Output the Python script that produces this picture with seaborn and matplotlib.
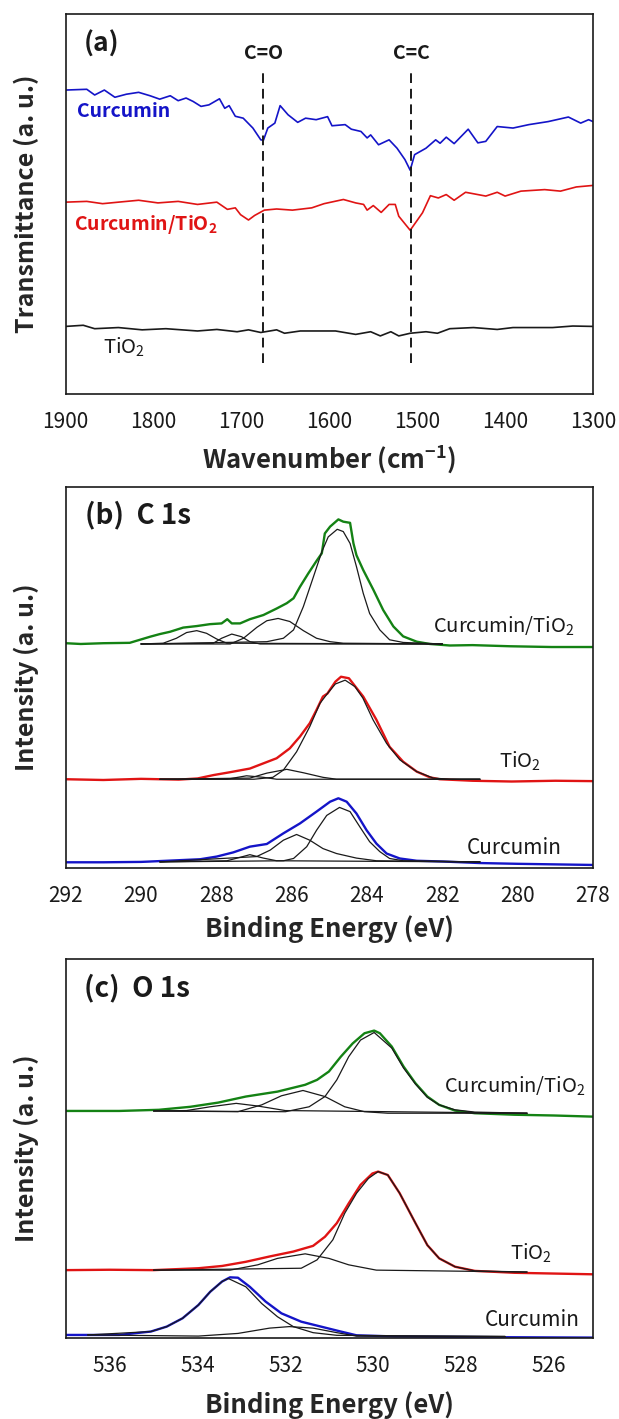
import matplotlib
matplotlib.use('Agg')
import matplotlib.pyplot as plt
import seaborn as sns
import pandas as pd
import numpy as np

sns.set_style('white')
plt.rcParams['font.family'] = ['Noto Sans CJK KR', 'DejaVu Sans']
plt.rcParams['mathtext.default'] = 'regular'

# ---------------- (a) FT-IR ----------------
ir_cur_x = [1900, 1876, 1867, 1856, 1844, 1831, 1817, 1804, 1793, 1781, 1772, 1763, 1755, 1746, 1737, 1725,
            1719, 1714, 1707, 1698, 1687, 1678, 1675, 1670, 1662, 1656, 1647, 1636, 1627, 1615, 1602, 1597,
            1582, 1575, 1564, 1557, 1553, 1544, 1532, 1523, 1514, 1508, 1503, 1490, 1479, 1474, 1467, 1458,
            1442, 1431, 1422, 1409, 1391, 1373, 1351, 1328, 1314, 1305, 1300]
ir_cur_y = [80.0, 80.2, 78.7, 80.0, 78.1, 78.9, 79.4, 78.5, 77.6, 78.5, 77.2, 77.9, 77.0, 75.7, 76.1, 77.7,
            75.2, 75.9, 73.1, 72.6, 70.0, 66.9, 66.8, 70.0, 71.3, 75.9, 73.5, 71.5, 72.6, 72.2, 73.0, 70.6,
            70.9, 69.7, 69.1, 67.4, 68.2, 65.6, 66.9, 64.7, 61.7, 58.9, 63.0, 64.7, 66.9, 66.0, 67.6, 65.9,
            69.7, 66.1, 66.5, 70.4, 70.0, 70.9, 71.7, 72.9, 71.3, 72.2, 71.7]

ir_comp_x = [1900, 1876, 1858, 1840, 1817, 1795, 1772, 1750, 1728, 1716, 1707, 1701, 1692, 1685, 1674,
             1660, 1642, 1620, 1606, 1584, 1570, 1561, 1557, 1550, 1541, 1532, 1525, 1521, 1508, 1494,
             1485, 1476, 1467, 1458, 1445, 1422, 1409, 1400, 1382, 1355, 1337, 1319, 1300]
ir_comp_y = [50.5, 50.7, 50.1, 50.5, 51.0, 50.3, 50.7, 49.9, 50.5, 48.6, 49.0, 47.2, 45.8, 47.0, 48.4,
             48.7, 48.4, 49.0, 50.1, 51.2, 50.3, 49.9, 48.4, 49.6, 47.8, 49.9, 49.9, 46.8, 43.1, 47.7,
             52.2, 51.6, 52.5, 51.0, 53.1, 52.1, 53.1, 52.1, 53.4, 53.8, 53.4, 54.5, 54.9]

ir_tio_x = [1900, 1880, 1867, 1840, 1813, 1786, 1750, 1728, 1705, 1692, 1678, 1660, 1651, 1633, 1593,
            1570, 1553, 1542, 1530, 1521, 1508, 1490, 1477, 1463, 1436, 1409, 1391, 1346, 1323, 1300]
ir_tio_y = [17.8, 18.1, 17.2, 17.5, 16.9, 17.2, 16.6, 17.0, 16.4, 16.9, 16.2, 16.9, 16.0, 16.6, 16.6,
            15.7, 16.4, 15.3, 16.4, 15.3, 16.0, 16.4, 16.0, 17.2, 17.5, 17.0, 17.5, 17.5, 17.9, 17.8]

ir_marks = [1675, 1507]
ir_mark_labels = ['C=O', 'C=C']

# ---------------- (b) C 1s ----------------
c_ct_x = [292.0, 291.6, 291.0, 290.3, 289.76, 289.5, 289.23, 288.88, 288.52, 288.17, 287.86, 287.71, 287.59,
          287.37, 287.11, 286.75, 286.4, 286.13, 285.95, 285.78, 285.56, 285.34, 285.2, 285.12, 284.98,
          284.76, 284.63, 284.45, 284.36, 284.28, 284.1, 283.83, 283.57, 283.3, 283.04, 282.68, 282.33,
          281.8, 281.2, 280.2, 279.1, 278.0]
c_ct_y = [59.0, 58.8, 59.0, 59.1, 60.7, 61.4, 62.0, 63.1, 63.5, 64.0, 64.2, 65.3, 64.2,
          64.2, 65.3, 66.4, 68.1, 69.5, 70.8, 73.8, 77.3, 80.6, 82.6, 87.8, 89.6,
          91.5, 90.9, 90.6, 85.2, 82.1, 78.2, 73.0, 67.7, 63.4, 60.8, 59.4, 58.8,
          58.4, 58.5, 58.2, 58.0, 58.0]
c_ct_fits = [
    ([290.0, 286.66, 286.22, 285.95, 285.69, 285.42, 285.2, 285.03, 284.79, 284.63, 284.45, 284.28,
      284.1, 283.93, 283.66, 283.4, 283.04, 282.0],
     [58.8, 59.4, 60.3, 62.5, 68.6, 76.5, 83.0, 86.9, 88.9, 88.3, 85.2, 79.1,
      72.1, 66.8, 62.5, 59.9, 59.2, 58.8]),
    ([290.0, 287.63, 287.28, 286.92, 286.66, 286.36, 286.05, 285.69, 285.34, 284.98, 284.63, 282.0],
     [58.8, 58.8, 60.3, 63.2, 64.9, 65.5, 64.7, 62.3, 60.3, 59.4, 59.0, 58.8]),
    ([290.0, 288.08, 287.86, 287.59, 287.33, 287.11, 286.84, 282.0],
     [58.8, 59.0, 60.3, 61.4, 60.7, 59.4, 58.8, 58.8]),
    ([290.0, 289.41, 289.06, 288.79, 288.52, 288.26, 287.99, 287.72, 282.0],
     [58.8, 59.0, 60.3, 61.8, 62.3, 61.6, 60.1, 59.0, 58.8]),
]

c_t_x = [292.0, 291.0, 290.0, 289.0, 288.5, 288.07, 287.66, 287.11, 286.4, 286.05, 285.78, 285.52, 285.34,
         285.17, 285.05, 284.84, 284.69, 284.48, 284.22, 284.1, 283.75, 283.4, 283.04, 282.68, 282.33,
         282.07, 281.2, 280.16, 279.0, 278.0]
c_t_y = [23.3, 23.1, 23.4, 23.2, 23.5, 24.4, 25.1, 26.1, 28.8, 31.4, 34.5, 38.0, 41.5,
         45.0, 45.8, 48.9, 50.2, 49.8, 46.5, 45.0, 38.9, 31.8, 27.9, 25.3, 23.8,
         23.3, 22.9, 22.7, 22.9, 22.8]
c_t_fits = [
    ([289.5, 287.0, 286.5, 286.22, 285.87, 285.52, 285.25, 285.05, 284.84, 284.58, 284.32, 284.11,
      283.84, 283.48, 283.13, 282.68, 282.24, 281.8, 281.0],
     [23.3, 23.3, 23.8, 25.7, 30.5, 37.1, 43.2, 45.8, 48.3, 49.3, 47.6, 44.6,
      38.9, 32.7, 28.4, 25.3, 23.6, 23.3, 23.3]),
    ([289.5, 287.11, 286.66, 286.13, 285.69, 285.17, 284.81, 281.0],
     [23.3, 23.6, 24.9, 25.9, 25.0, 23.8, 23.3, 23.3]),
    ([289.5, 287.72, 287.2, 286.75, 286.4, 281.0],
     [23.3, 23.3, 24.2, 23.8, 23.3, 23.3]),
]

c_c_x = [292.0, 291.0, 290.0, 289.76, 288.43, 287.99, 287.55, 287.11, 286.66, 286.22, 285.78, 285.34,
         284.98, 284.76, 284.54, 284.28, 284.01, 283.75, 283.48, 283.13, 282.68, 281.98, 281.0, 280.0, 278.0]
c_c_y = [1.5, 1.5, 1.6, 1.7, 2.3, 3.0, 4.1, 5.6, 6.3, 9.1, 11.7, 14.8,
         17.4, 18.3, 17.4, 14.3, 9.9, 6.4, 3.8, 2.5, 1.9, 1.7, 1.3, 1.1, 0.8]
c_c_fits = [
    ([289.5, 286.22, 285.95, 285.6, 285.34, 285.07, 284.73, 284.45, 284.19, 283.93, 283.66, 283.4,
      283.04, 281.0],
     [1.6, 1.9, 2.5, 5.6, 9.9, 13.8, 15.9, 14.8, 10.8, 6.9, 4.3, 2.5,
      1.9, 1.6]),
    ([289.5, 286.93, 286.57, 286.22, 285.87, 285.52, 285.17, 284.81, 284.28, 283.75, 281.0],
     [1.6, 3.0, 4.7, 7.3, 8.8, 7.3, 5.1, 3.8, 2.6, 1.9, 1.6]),
    ([289.5, 287.72, 287.37, 287.11, 286.75, 286.4, 281.0],
     [1.6, 1.9, 2.8, 3.5, 2.6, 1.9, 1.6]),
]

# ---------------- (c) O 1s ----------------
o_ct_x = [537.0, 535.78, 534.88, 534.16, 533.53, 532.9, 532.18, 531.55, 531.28, 531.01, 530.74, 530.47,
          530.2, 529.98, 529.85, 529.58, 529.31, 529.04, 528.77, 528.5, 528.14, 527.69, 526.79, 525.89, 525.0]
o_ct_y = [59.9, 59.9, 60.2, 61.0, 62.1, 63.7, 65.0, 66.8, 68.1, 70.3, 74.2, 77.7,
          80.4, 81.1, 80.4, 76.9, 71.6, 67.2, 63.7, 61.5, 60.0, 59.3, 58.9, 58.7, 58.4]
o_ct_fits = [
    ([535.0, 532.0, 531.46, 531.1, 530.83, 530.56, 530.29, 529.98, 529.58, 529.31, 529.04, 528.77,
      528.5, 528.14, 527.69, 526.5],
     [59.9, 59.7, 61.0, 63.7, 68.1, 74.2, 78.6, 80.6, 76.5, 71.2, 67.0, 63.5,
      61.5, 60.2, 59.6, 59.3]),
    ([535.0, 533.08, 532.54, 532.09, 531.6, 531.1, 530.65, 530.2, 529.67, 526.5],
     [59.9, 59.7, 61.5, 63.9, 65.3, 63.7, 61.0, 59.7, 59.3, 59.3]),
    ([535.0, 534.25, 533.71, 533.12, 532.63, 532.0, 526.5],
     [59.9, 60.0, 61.0, 61.9, 61.2, 60.0, 59.3]),
]

o_t_x = [537.0, 536.0, 535.0, 533.98, 533.44, 532.9, 532.36, 531.82, 531.37, 531.1, 530.83, 530.56,
         530.29, 530.02, 529.89, 529.67, 529.4, 529.04, 528.77, 528.5, 528.14, 527.69, 526.79, 525.0]
o_t_y = [17.9, 18.0, 17.9, 18.4, 19.0, 20.1, 21.5, 22.8, 24.3, 26.7, 30.3, 35.5,
         40.4, 43.4, 43.9, 43.0, 38.2, 30.3, 24.5, 21.0, 18.8, 17.7, 17.2, 16.8]
o_t_fits = [
    ([535.0, 531.64, 531.28, 530.92, 530.65, 530.38, 530.11, 529.89, 529.67, 529.4, 529.04, 528.77,
      528.5, 528.14, 527.69, 526.5],
     [17.9, 18.4, 20.6, 25.9, 32.9, 38.2, 42.1, 43.9, 43.0, 38.2, 30.3, 24.5,
      21.0, 18.8, 17.7, 17.4]),
    ([535.0, 533.26, 532.63, 532.18, 531.55, 531.01, 530.56, 529.93, 526.5],
     [17.9, 17.9, 19.3, 21.0, 22.2, 21.0, 19.3, 17.9, 17.4]),
]

o_c_x = [537.0, 535.78, 535.06, 534.7, 534.34, 533.98, 533.71, 533.44, 533.26, 533.08, 532.81, 532.45,
         532.09, 531.64, 531.19, 530.74, 530.38, 529.5, 527.0, 525.0]
o_c_y = [0.8, 0.8, 1.7, 3.0, 5.2, 8.7, 12.2, 14.9, 16.0, 15.9, 13.5, 9.6,
         6.5, 4.3, 3.0, 1.7, 0.7, 0.4, 0.2, 0.1]
o_c_fits = [
    ([536.5, 535.06, 534.7, 534.34, 533.98, 533.71, 533.44, 533.3, 532.9, 532.54, 532.18, 531.82,
      531.37, 530.83, 527.0],
     [0.8, 1.7, 3.0, 5.2, 8.7, 12.2, 14.9, 15.7, 13.5, 9.1, 5.6, 3.0,
      1.4, 0.7, 0.4]),
    ([536.5, 533.98, 533.08, 532.36, 531.91, 531.37, 530.83, 530.38, 527.0],
     [0.8, 0.5, 1.2, 2.6, 3.0, 2.6, 1.4, 0.5, 0.4]),
]

blue = '#1414C8'
red = '#E01414'
green = '#148214'
ink = '#1a1a1a'

fig = plt.figure(figsize=(6.19, 14.19), dpi=100)
ax_a = fig.add_axes([0.1061, 0.7223, 0.8519, 0.2678])
ax_b = fig.add_axes([0.1061, 0.3883, 0.8519, 0.2685])
ax_c = fig.add_axes([0.1061, 0.0571, 0.8519, 0.2671])


def line(ax, x, y, color, lw):
    sns.lineplot(x=x, y=y, ax=ax, color=color, lw=lw, sort=False, estimator=None)


# (a)
line(ax_a, ir_cur_x, ir_cur_y, blue, 1.2)
line(ax_a, ir_comp_x, ir_comp_y, red, 1.2)
line(ax_a, ir_tio_x, ir_tio_y, ink, 1.2)
for wn, lab in zip(ir_marks, ir_mark_labels):
    ax_a.plot([wn, wn], [8.1, 85.7], color=ink, lw=1.4, ls=(0, (5, 3)))
    ax_a.text(wn, 89.5, lab, ha='center', va='center', fontsize=14, fontweight='bold', color=ink)
ax_a.text(1880, 92, '(a)', ha='left', va='center', fontsize=19, fontweight='bold', color=ink)
ax_a.text(1887, 74.4, 'Curcumin', ha='left', va='center', fontsize=14, fontweight='bold', color=blue)
ax_a.text(1891, 44.6, 'Curcumin/TiO$_2$', ha='left', va='center', fontsize=14, fontweight='bold', color=red)
ax_a.text(1858, 12.2, 'TiO$_2$', ha='left', va='center', fontsize=14.5, color=ink)
ax_a.set_xlim(1900, 1300)
ax_a.set_ylim(0, 100)
ax_a.set_xticks(range(1900, 1299, -100))
ax_a.set_xlabel('Wavenumber (cm$^{-1}$)', fontsize=18.5, fontweight='bold')
ax_a.set_ylabel('Transmittance (a. u.)', fontsize=18, fontweight='bold')
ax_a.xaxis.set_label_coords(0.5, -0.13)

# (b)
for (x, y, col) in [(c_ct_x, c_ct_y, green), (c_t_x, c_t_y, red), (c_c_x, c_c_y, blue)]:
    line(ax_b, x, y, col, 1.7)
for fits in [c_ct_fits, c_t_fits, c_c_fits]:
    for fx, fy in fits:
        line(ax_b, fx, fy, ink, 0.9)
ax_b.text(291.5, 92.6, '(b)  C 1s', ha='left', va='center', fontsize=20, fontweight='bold', color=ink)
ax_b.text(278.5, 63.3, 'Curcumin/TiO$_2$', ha='right', va='center', fontsize=14.5, color=ink)
ax_b.text(280.5, 27.9, 'TiO$_2$', ha='left', va='center', fontsize=14.5, color=ink)
ax_b.text(281.35, 5.2, 'Curcumin', ha='left', va='center', fontsize=15, color=ink)
ax_b.set_xlim(292, 278)
ax_b.set_ylim(0, 100)
ax_b.set_xticks(range(292, 277, -2))
ax_b.set_xlabel('Binding Energy (eV)', fontsize=18.5, fontweight='bold')
ax_b.set_ylabel('Intensity (a. u.)', fontsize=18, fontweight='bold')
ax_b.xaxis.set_label_coords(0.5, -0.125)

# (c)
for (x, y, col) in [(o_ct_x, o_ct_y, green), (o_t_x, o_t_y, red), (o_c_x, o_c_y, blue)]:
    line(ax_c, x, y, col, 1.7)
for fits in [o_ct_fits, o_t_fits, o_c_fits]:
    for fx, fy in fits:
        line(ax_c, fx, fy, ink, 0.9)
ax_c.text(536.58, 92.3, '(c)  O 1s', ha='left', va='center', fontsize=20, fontweight='bold', color=ink)
ax_c.text(525.17, 66.3, 'Curcumin/TiO$_2$', ha='right', va='center', fontsize=14.5, color=ink)
ax_c.text(526.88, 22.3, 'TiO$_2$', ha='left', va='center', fontsize=14.5, color=ink)
ax_c.text(525.3, 4.7, 'Curcumin', ha='right', va='center', fontsize=15, color=ink)
ax_c.set_xlim(537, 525)
ax_c.set_ylim(0, 100)
ax_c.set_xticks(range(536, 525, -2))
ax_c.set_xlabel('Binding Energy (eV)', fontsize=18.5, fontweight='bold')
ax_c.set_ylabel('Intensity (a. u.)', fontsize=18, fontweight='bold')
ax_c.xaxis.set_label_coords(0.5, -0.14)

for ax in [ax_a, ax_b, ax_c]:
    ax.set_yticks([])
    ax.tick_params(axis='x', direction='in', length=5, width=1, pad=12, labelsize=15, colors=ink)
    ax.yaxis.set_label_coords(-0.05, 0.5)
    for s in ax.spines.values():
        s.set_visible(True)
        s.set_color(ink)
        s.set_linewidth(1.2)
    if ax.get_legend() is not None:
        ax.get_legend().remove()

fig.savefig('out.png', dpi=100)
